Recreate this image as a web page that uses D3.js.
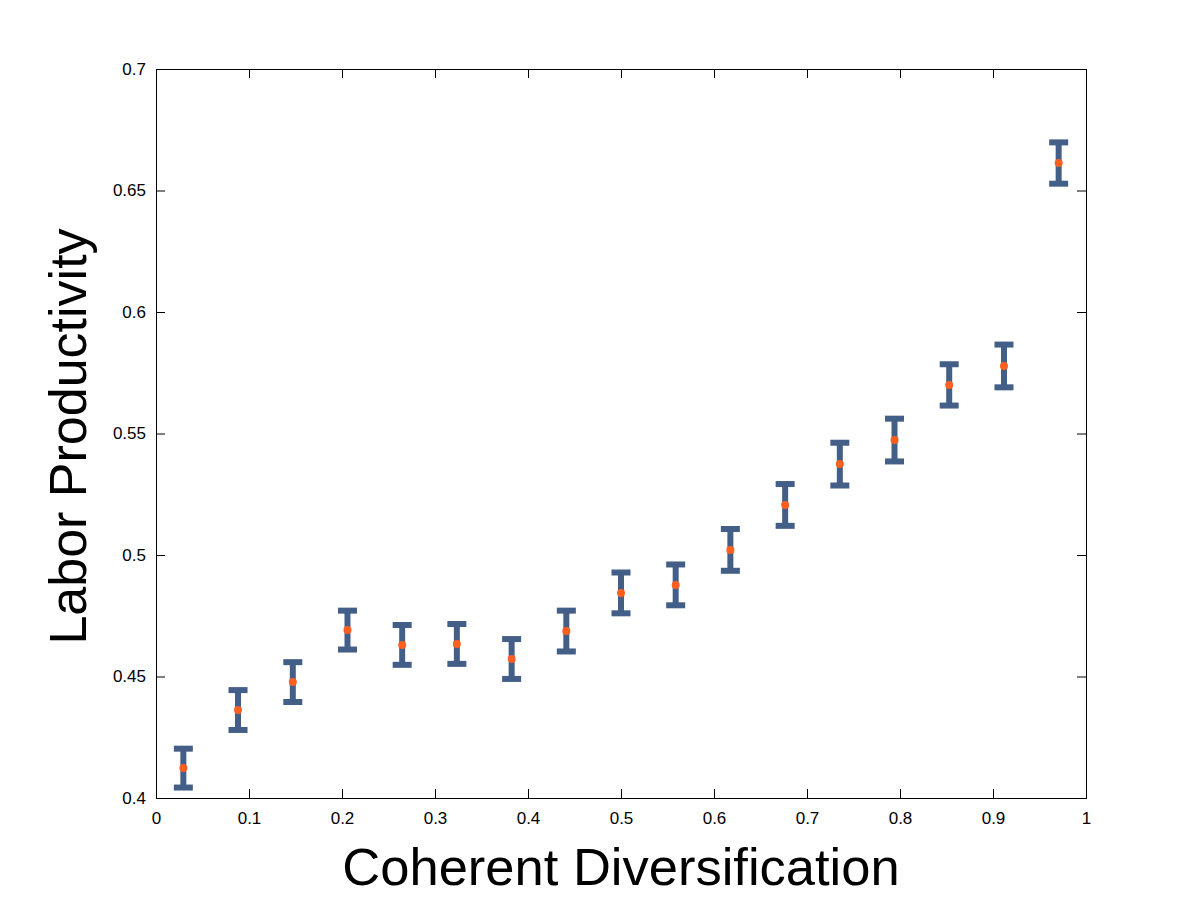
<!DOCTYPE html>
<html>
<head>
<meta charset="utf-8">
<script src="https://cdn.jsdelivr.net/npm/d3@7"></script>
<style>
  body { margin: 0; background: #fff; }
  text { font-family: "Liberation Sans", Arial, sans-serif; }
</style>
</head>
<body>
<svg id="chart" width="1200" height="901"></svg>
<script>
const xValues = [0.0294, 0.0882, 0.1471, 0.2059, 0.2647, 0.3235, 0.3824, 0.4412, 0.5,
  0.5588, 0.6176, 0.6765, 0.7353, 0.7941, 0.8529, 0.9118, 0.9706];
const yValues = [0.4123, 0.4362, 0.4477, 0.4691, 0.4630, 0.4634, 0.4572, 0.4687, 0.4844,
  0.4877, 0.5021, 0.5206, 0.5374, 0.5473, 0.5700, 0.5778, 0.6613];
const errValues = [0.0080, 0.0082, 0.0082, 0.0080, 0.0082, 0.0082, 0.0082, 0.0084, 0.0084,
  0.0084, 0.0086, 0.0086, 0.0088, 0.0088, 0.0085, 0.0088, 0.0085];
const xTicks = [0, 0.1, 0.2, 0.3, 0.4, 0.5, 0.6, 0.7, 0.8, 0.9, 1];
const yTicks = [0.4, 0.45, 0.5, 0.55, 0.6, 0.65, 0.7];

const data = xValues.map((x, i) => ({ x, y: yValues[i], e: errValues[i] }));

const svg = d3.select('#chart');
const margin = { top: 69, right: 114, bottom: 103, left: 156 };
const width = +svg.attr('width');
const height = +svg.attr('height');

const x = d3.scaleLinear().domain([0, 1]).range([margin.left, width - margin.right]);
const y = d3.scaleLinear().domain([0.4, 0.7]).range([height - margin.bottom, margin.top]);

const tickLen = 9;
const fmt = d => String(+d.toFixed(2));

// bottom axis
svg.append('g')
  .attr('transform', `translate(0,${y(0.4)})`)
  .call(d3.axisBottom(x).tickValues(xTicks).tickSize(-tickLen).tickPadding(14).tickFormat(fmt))
  .call(g => g.selectAll('text').attr('font-size', 17).attr('fill', '#000'));
// top axis
svg.append('g')
  .attr('transform', `translate(0,${y(0.7)})`)
  .call(d3.axisTop(x).tickValues(xTicks).tickSize(-tickLen).tickFormat(''));
// left axis
svg.append('g')
  .attr('transform', `translate(${x(0)},0)`)
  .call(d3.axisLeft(y).tickValues(yTicks).tickSize(-tickLen).tickPadding(10).tickFormat(fmt))
  .call(g => g.selectAll('text').attr('font-size', 17).attr('fill', '#000'));
// right axis
svg.append('g')
  .attr('transform', `translate(${x(1)},0)`)
  .call(d3.axisRight(y).tickValues(yTicks).tickSize(-tickLen).tickFormat(''));

svg.selectAll('.domain').attr('stroke', '#000').attr('stroke-width', 1);
svg.selectAll('.tick line').attr('stroke', '#000');

// error bars
const barColor = '#435e87';
const capHalf = 9.5;
const bars = svg.append('g').selectAll('g').data(data).join('g');
bars.append('line')
  .attr('x1', d => x(d.x)).attr('x2', d => x(d.x))
  .attr('y1', d => y(d.y - d.e)).attr('y2', d => y(d.y + d.e))
  .attr('stroke', barColor).attr('stroke-width', 6);
bars.append('line')
  .attr('x1', d => x(d.x) - capHalf).attr('x2', d => x(d.x) + capHalf)
  .attr('y1', d => y(d.y + d.e)).attr('y2', d => y(d.y + d.e))
  .attr('stroke', barColor).attr('stroke-width', 6);
bars.append('line')
  .attr('x1', d => x(d.x) - capHalf).attr('x2', d => x(d.x) + capHalf)
  .attr('y1', d => y(d.y - d.e)).attr('y2', d => y(d.y - d.e))
  .attr('stroke', barColor).attr('stroke-width', 6);

// markers
svg.append('g').selectAll('circle').data(data).join('circle')
  .attr('cx', d => x(d.x)).attr('cy', d => y(d.y))
  .attr('r', 4).attr('fill', '#ff5f1f');

// axis labels
svg.append('text')
  .attr('x', (x(0) + x(1)) / 2).attr('y', 885)
  .attr('text-anchor', 'middle').attr('font-size', 52.5)
  .text('Coherent Diversification');
svg.append('text')
  .attr('transform', `translate(86,${(y(0.4) + y(0.7)) / 2 + 3}) rotate(-90)`)
  .attr('text-anchor', 'middle').attr('font-size', 52)
  .text('Labor Productivity');
</script>
</body>
</html>
